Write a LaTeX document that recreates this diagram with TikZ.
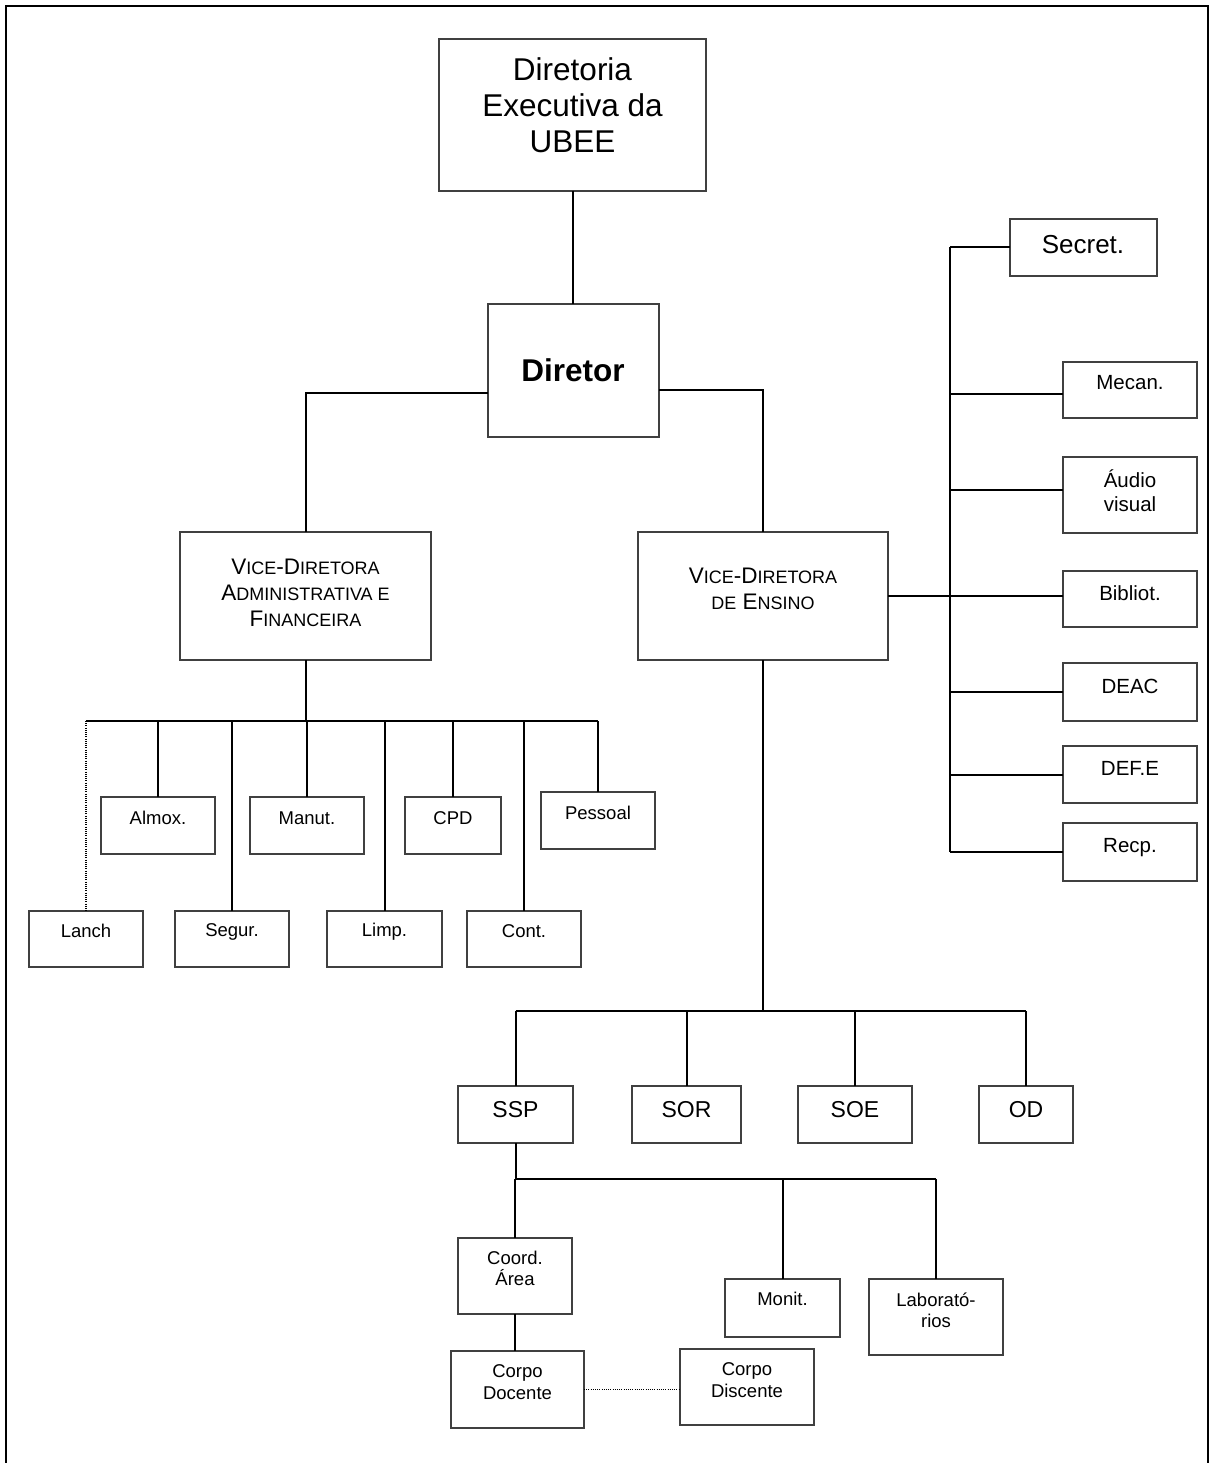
\documentclass[tikz,border=0pt]{standalone}
\usepackage{fontspec}
\setmainfont{Liberation Sans}
\newcommand\fbig{\fontsize{31.5}{36}\selectfont}
\newcommand\fsec{\fontsize{26}{30}\selectfont}
\newcommand\fmid{\fontsize{23}{27}\selectfont}
\newcommand\fvd{\fontsize{22.5}{26}\selectfont}
\newcommand\smc[1]{{\fontsize{18}{26}\selectfont #1}}
\newcommand\fright{\fontsize{20.5}{24}\selectfont}
\newcommand\fsmall{\fontsize{18.5}{21.5}\selectfont}
\newcommand\mybox[5]{\node[box, minimum width={(#4-#2)*1pt}, minimum height={(#5-#3)*1pt}] (#1) at ({(#2+#4)/2},{(#3+#5)/2}) {};}
\begin{document}
\begin{tikzpicture}[x=1pt,y=-1pt,
  box/.style={draw=black!75, line width=1.3pt, inner sep=0pt, outer sep=0pt},
  conn/.style={line width=2pt, black},
  dotline/.style={line width=1.3pt, black, dash pattern=on 1pt off 1.2pt},
  txt/.style={align=center, inner sep=0pt}]
\useasboundingbox (0,0) rectangle (1209,1463);
\draw[line width=2.2pt] (6,1463) -- (6,6) -- (1208,6) -- (1208,1463);

% boxes
\mybox{dexe}{439}{39}{706}{191}
\mybox{dtor}{488}{304}{659}{437}
\mybox{vdaf}{180}{532}{431}{660}
\mybox{vde}{638}{532}{888}{660}
\mybox{secret}{1010}{219}{1157}{276}
\mybox{mecan}{1063}{362}{1197}{418}
\mybox{audio}{1063}{457}{1197}{533}
\mybox{bibl}{1063}{571}{1197}{627}
\mybox{deac}{1063}{663}{1197}{721}
\mybox{defe}{1063}{746}{1197}{803}
\mybox{recp}{1063}{823}{1197}{881}
\mybox{almox}{101}{797}{215}{854}
\mybox{manut}{250}{797}{364}{854}
\mybox{cpd}{405}{797}{501}{854}
\mybox{pess}{541}{792}{655}{849}
\mybox{lanch}{29}{911}{143}{967}
\mybox{segur}{175}{911}{289}{967}
\mybox{limp}{327}{911}{442}{967}
\mybox{cont}{467}{911}{581}{967}
\mybox{ssp}{458}{1086}{573}{1143}
\mybox{sor}{632}{1086}{741}{1143}
\mybox{soe}{798}{1086}{912}{1143}
\mybox{od}{979}{1086}{1073}{1143}
\mybox{coord}{458}{1238}{572}{1314}
\mybox{monit}{725}{1279}{840}{1337}
\mybox{lab}{869}{1279}{1003}{1355}
\mybox{cdoc}{451}{1351}{584}{1428}
\mybox{cdis}{680}{1349}{814}{1425}

% texts
\node[txt, font=\fbig] (dexe-t) at (572.5,105) {Diretoria\\Executiva da\\UBEE};
\node[txt, font=\fbig\bfseries] (dtor-t) at (573,370) {Diretor};
\node[txt, font=\fvd] (vdaf-t) at (305.5,592.5) {V\smc{ICE}-D\smc{IRETORA}\\A\smc{DMINISTRATIVA E}\\F\smc{INANCEIRA}};
\node[txt, font=\fvd] (vde-t) at (763,588.5) {V\smc{ICE}-D\smc{IRETORA}\\\smc{DE} E\smc{NSINO}};
\node[txt, font=\fsec] (secret-t) at (1083,245) {Secret.};
\node[txt, font=\fright] (mecan-t) at (1130,383) {Mecan.};
\node[txt, font=\fright] (audio-t) at (1130,491) {Áudio\\visual};
\node[txt, font=\fright] (bibl-t) at (1130,593) {Bibliot.};
\node[txt, font=\fright] (deac-t) at (1130,686) {DEAC};
\node[txt, font=\fright] (defe-t) at (1130,768) {DEF.E};
\node[txt, font=\fright] (recp-t) at (1130,848) {Recp.};
\node[txt, font=\fsmall] (almox-t) at (158,818) {Almox.};
\node[txt, font=\fsmall] (manut-t) at (307,818) {Manut.};
\node[txt, font=\fsmall] (cpd-t) at (453,818) {CPD};
\node[txt, font=\fsmall] (pess-t) at (598,813) {Pessoal};
\node[txt, font=\fsmall] (lanch-t) at (86,931) {Lanch};
\node[txt, font=\fsmall] (segur-t) at (232,932) {Segur.};
\node[txt, font=\fsmall] (limp-t) at (384.5,932) {Limp.};
\node[txt, font=\fsmall] (cont-t) at (524,931) {Cont.};
\node[txt, font=\fmid] (ssp-t) at (515.5,1110) {SSP};
\node[txt, font=\fmid] (sor-t) at (686.5,1110) {SOR};
\node[txt, font=\fmid] (soe-t) at (855,1110) {SOE};
\node[txt, font=\fmid] (od-t) at (1026,1110) {OD};
\node[txt, font=\fsmall] (coord-t) at (515,1268.5) {Coord.\\Área};
\node[txt, font=\fsmall] (monit-t) at (782.5,1299) {Monit.};
\node[txt, font=\fsmall] (lab-t) at (936,1310.5) {Laborató-\\rios};
\node[txt, font=\fsmall] (cdoc-t) at (517.5,1382) {Corpo\\Docente};
\node[txt, font=\fsmall] (cdis-t) at (747,1380) {Corpo\\Discente};

% bus coordinates
\coordinate (lbus) at (0,721);
\coordinate (ebus) at (0,1011);
\coordinate (sbus) at (0,1179);
\coordinate (rbus) at (950,0);
\coordinate (mecan-c) at ([yshift=-4pt]mecan.west);
\coordinate (audio-c) at ([yshift=5pt]audio.west);

% connectors
\draw[conn] (dexe.south) -- (dexe.south |- dtor.north);
\draw[conn] ([yshift=-22.5pt]dtor.west) -| (vdaf.north);
\draw[conn] ([yshift=-19.5pt]dtor.east) -| (vde.north);

\draw[conn] (vdaf.south) -- (vdaf.south |- lbus);
\draw[conn] (lanch.north |- lbus) -- (pess.north |- lbus);
\foreach \n in {almox,segur,manut,limp,cpd,cont,pess}
  \draw[conn] (\n.north |- lbus) -- (\n.north);
\draw[dotline] (lanch.north |- lbus) -- (lanch.north);

\draw[conn] (vde.east) -- (vde.east -| bibl.west);
\draw[conn] (rbus |- secret.west) -- (rbus |- recp.west);
\draw[conn] (rbus |- secret.west) -- (secret.west);
\draw[conn] (mecan-c -| rbus) -- (mecan-c);
\draw[conn] (audio-c -| rbus) -- (audio-c);
\foreach \n in {deac,defe,recp}
  \draw[conn] (rbus |- \n.west) -- (\n.west);

\draw[conn] (vde.south) -- (vde.south |- ebus);
\draw[conn] (ssp.north |- ebus) -- (od.north |- ebus);
\foreach \n in {ssp,sor,soe,od}
  \draw[conn] (\n.north |- ebus) -- (\n.north);

\draw[conn] (ssp.south) -- (ssp.south |- sbus);
\draw[conn] (coord.north |- sbus) -- (lab.north |- sbus);
\foreach \n in {coord,monit,lab}
  \draw[conn] (\n.north |- sbus) -- (\n.north);
\draw[conn] (coord.south) -- (coord.south |- cdoc.north);
\draw[dotline] (cdoc.east) -- (cdoc.east -| cdis.west);
\end{tikzpicture}
\end{document}
